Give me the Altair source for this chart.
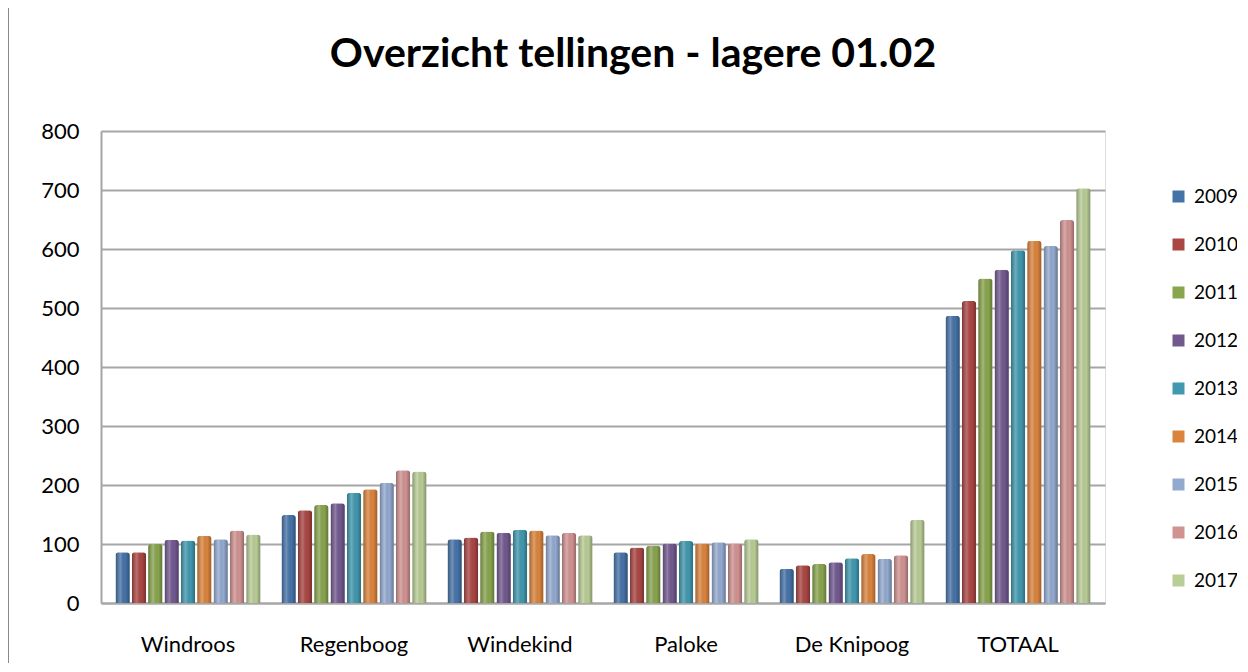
import altair as alt
import pandas as pd

title_text = "Overzicht tellingen - lagere 01.02"
schools = ["Windroos", "Regenboog", "Windekind", "Paloke", "De Knipoog", "TOTAAL"]
years = ["2009", "2010", "2011", "2012", "2013", "2014", "2015", "2016", "2017"]

v2009 = [86, 149, 108, 86, 58, 487]
v2010 = [86, 157, 111, 94, 64, 512]
v2011 = [100, 166, 121, 97, 66, 550]
v2012 = [107, 169, 119, 101, 69, 565]
v2013 = [106, 187, 124, 105, 76, 598]
v2014 = [114, 193, 123, 101, 83, 614]
v2015 = [108, 204, 115, 103, 75, 605]
v2016 = [123, 225, 119, 101, 81, 649]
v2017 = [116, 223, 115, 108, 141, 703]

colors = ["#4572A7", "#AA4643", "#89A54E", "#71588F", "#4198AF",
          "#DB843D", "#93A9CF", "#D19392", "#B9CD96"]

series = [v2009, v2010, v2011, v2012, v2013, v2014, v2015, v2016, v2017]
rows = []
for yr, vals in zip(years, series):
    for s, v in zip(schools, vals):
        rows.append({"school": s, "year": yr, "value": v})
df = pd.DataFrame(rows)

FONT = "Lato"

base = alt.Chart(df).encode(
    x=alt.X("school:N", sort=schools, title=None,
            scale=alt.Scale(paddingInner=0.126, paddingOuter=0.087),
            axis=alt.Axis(labelAngle=0, labelFontSize=22, labelFont=FONT,
                          labelColor="#000000", labelPadding=31, ticks=False,
                          domainColor="#a6a6a6", domainWidth=2)),
    xOffset=alt.XOffset("year:N", sort=years, scale=alt.Scale(paddingInner=0.12)),
    y=alt.Y("value:Q", title=None,
            scale=alt.Scale(domain=[0, 800], nice=False),
            axis=alt.Axis(values=[0, 100, 200, 300, 400, 500, 600, 700, 800],
                          labelFontSize=22, labelFont=FONT, labelColor="#000000",
                          labelPadding=22, ticks=False, domainColor="#a6a6a6",
                          domainWidth=2, gridColor="#a6a6a6", gridWidth=2)),
)

bars = base.mark_bar(cornerRadiusTopLeft=3, cornerRadiusTopRight=3).encode(
    color=alt.Color("year:N", sort=years,
                    scale=alt.Scale(domain=years, range=colors),
                    legend=alt.Legend(title=None, orient="none", legendX=1068, legendY=56,
                                      symbolType="square", symbolSize=144,
                                      symbolStrokeWidth=0, labelFontSize=19,
                                      labelFont=FONT, labelColor="#000000",
                                      rowPadding=28, labelOffset=6, padding=0))
)

shade = base.mark_bar(
    cornerRadiusTopLeft=3, cornerRadiusTopRight=3,
    fill=alt.Gradient(
        gradient="linear", x1=0, x2=1, y1=0, y2=0,
        stops=[alt.GradientStop(offset=0, color="rgba(0,0,0,0.28)"),
               alt.GradientStop(offset=0.35, color="rgba(255,255,255,0.22)"),
               alt.GradientStop(offset=0.7, color="rgba(0,0,0,0.0)"),
               alt.GradientStop(offset=1, color="rgba(0,0,0,0.30)")]),
)

edge = alt.Chart(pd.DataFrame({"x": [0]})).mark_rule(color="#888888", strokeWidth=2).encode(
    x=alt.value(-93), y=alt.value(-140), y2=alt.value(560)
)

title = alt.Chart(pd.DataFrame({"t": [title_text]})).mark_text(
    font=FONT, fontSize=41, fontWeight="bold", color="#000000",
    align="center", baseline="middle"
).encode(text="t:N", x=alt.value(532), y=alt.value(-76))

chart = alt.layer(bars, shade, edge, title).properties(
    width=1004, height=472,
    autosize=alt.AutoSizeParams(type="none"),
    padding={"left": 93, "top": 123, "right": 132, "bottom": 60},
).configure_view(stroke=None).configure(background="#ffffff")

chart.save("out.html", embed_options={"renderer": "svg", "actions": False})
